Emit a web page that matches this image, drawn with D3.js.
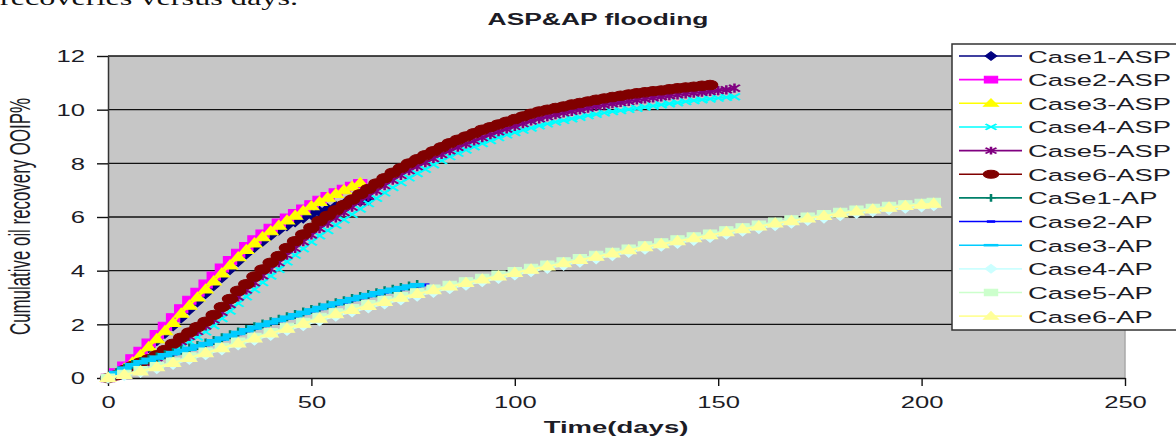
<!DOCTYPE html>
<html>
<head>
<meta charset="utf-8">
<script src="https://cdn.jsdelivr.net/npm/d3@7"></script>
<style>
body { margin: 0; background: #fff; overflow: hidden; }
svg { display: block; }
</style>
</head>
<body>
<script>
var w = 1176;
var h = 439;
var SX = 1.6; // the source picture is stretched sideways, text and markers too

// ---- data ----
var days2 = [0,2,4,6,8,10,12,14,16,18,20,22,24,26,28,30,32,34,36,38,40,42,44,46,48,50,52,54,56,58,60,62,64,66,68,70,72,74,76,78,80,82,84,86,88,90,92,94,96,98,100,102,104,106,108,110,112,114,116,118,120,122,124,126,128,130,132,134,136,138,140,142,144,146,148,150,152,154];
var days4 = [0,4,8,12,16,20,24,28,32,36,40,44,48,52,56,60,64,68,72,76,80,84,88,92,96,100,104,108,112,116,120,124,128,132,136,140,144,148,152,156,160,164,168,172,176,180,184,188,192,196,200,203];

var case1Asp = [0,0.15,0.35,0.6,0.87,1.14,1.4,1.67,1.95,2.25,2.55,2.85,3.15,3.45,3.75,4.05,4.35,4.63,4.88,5.1,5.32,5.52,5.68,5.83,5.97,6.1,6.2,6.3,6.39,6.47,6.54,6.6,6.65];
var case2Asp = [0,0.2,0.45,0.72,1.0,1.3,1.62,1.93,2.25,2.58,2.9,3.2,3.5,3.8,4.1,4.38,4.65,4.9,5.15,5.37,5.58,5.78,5.96,6.13,6.3,6.46,6.62,6.76,6.9,7.03,7.15,7.25];
var case3Asp = [0,0.15,0.35,0.58,0.85,1.15,1.45,1.75,2.05,2.4,2.7,3.0,3.3,3.6,3.9,4.2,4.5,4.77,5.02,5.25,5.47,5.68,5.87,6.05,6.22,6.4,6.56,6.72,6.86,7.0,7.13,7.27];
var case4Asp = [0,0.07,0.2,0.32,0.43,0.53,0.65,0.8,0.98,1.17,1.35,1.53,1.72,1.95,2.22,2.5,2.78,3.03,3.3,3.56,3.8,4.05,4.33,4.58,4.82,5.07,5.3,5.5,5.7,5.9,6.1,6.3,6.5,6.7,6.9,7.1,7.28,7.46,7.62,7.78,7.95,8.1,8.25,8.38,8.5,8.62,8.74,8.85,8.96,9.06,9.15,9.24,9.32,9.4,9.47,9.54,9.6,9.66,9.72,9.78,9.83,9.88,9.93,9.97,10.01,10.05,10.1,10.14,10.18,10.22,10.26,10.3,10.34,10.37,10.4,10.43,10.46,10.48];
var case5Asp = [0,0.08,0.25,0.38,0.5,0.62,0.76,0.94,1.15,1.36,1.55,1.74,1.94,2.17,2.45,2.74,3.02,3.28,3.55,3.81,4.06,4.3,4.58,4.83,5.08,5.33,5.57,5.77,5.97,6.17,6.37,6.57,6.77,6.97,7.17,7.37,7.55,7.73,7.88,8.03,8.18,8.33,8.47,8.6,8.72,8.84,8.96,9.07,9.18,9.28,9.38,9.48,9.58,9.66,9.74,9.81,9.88,9.94,10.0,10.06,10.12,10.17,10.22,10.27,10.31,10.36,10.4,10.44,10.48,10.52,10.55,10.59,10.62,10.65,10.68,10.71,10.74,10.8];
var case6Asp = [0,0.1,0.3,0.45,0.58,0.7,0.85,1.05,1.28,1.5,1.7,1.9,2.1,2.35,2.65,2.95,3.25,3.5,3.78,4.05,4.3,4.55,4.85,5.1,5.35,5.6,5.85,6.05,6.25,6.45,6.65,6.85,7.05,7.25,7.45,7.65,7.82,8.0,8.15,8.3,8.45,8.6,8.75,8.88,9.0,9.12,9.25,9.35,9.45,9.55,9.65,9.75,9.85,9.93,10.0,10.06,10.12,10.19,10.25,10.31,10.37,10.42,10.47,10.52,10.57,10.61,10.65,10.69,10.72,10.76,10.8,10.83,10.86,10.89,10.92];
var case1Ap = [0,0.2,0.36,0.5,0.61,0.7,0.78,0.87,0.95,1.03,1.12,1.21,1.3,1.4,1.5,1.61,1.71,1.81,1.91,2.01,2.1,2.19,2.28,2.37,2.46,2.55,2.64,2.72,2.8,2.88,2.96,3.04,3.11,3.18,3.25,3.31,3.37,3.43,3.48];
var case2Ap = [0,0.18,0.33,0.46,0.57,0.66,0.74,0.82,0.9,0.98,1.06,1.15,1.24,1.34,1.44,1.55,1.65,1.75,1.85,1.95,2.04,2.13,2.22,2.31,2.4,2.49,2.58,2.67,2.75,2.83,2.91,2.99,3.06,3.13,3.2,3.26,3.32,3.38,3.43,3.47];
var case3Ap = [0,0.19,0.35,0.48,0.59,0.68,0.76,0.85,0.93,1.01,1.09,1.18,1.27,1.37,1.47,1.58,1.68,1.78,1.88,1.98,2.07,2.16,2.25,2.34,2.43,2.52,2.61,2.7,2.78,2.86,2.94,3.02,3.09,3.16,3.23,3.29,3.35,3.41,3.46];
var case4Ap = [0,0.1,0.22,0.36,0.52,0.7,0.88,1.06,1.24,1.42,1.6,1.78,1.96,2.14,2.31,2.47,2.62,2.77,2.92,3.06,3.2,3.34,3.47,3.6,3.72,3.85,3.97,4.09,4.21,4.33,4.45,4.57,4.69,4.81,4.92,5.03,5.14,5.25,5.37,5.48,5.58,5.69,5.78,5.88,5.97,6.06,6.14,6.21,6.28,6.34,6.39,6.43];
var case5Ap = [0,0.14,0.28,0.43,0.6,0.79,0.97,1.15,1.34,1.52,1.7,1.89,2.08,2.26,2.43,2.59,2.74,2.89,3.04,3.18,3.32,3.46,3.59,3.72,3.84,3.97,4.09,4.21,4.33,4.45,4.57,4.69,4.81,4.93,5.04,5.15,5.26,5.37,5.49,5.6,5.7,5.81,5.9,6.0,6.09,6.18,6.26,6.33,6.4,6.46,6.51,6.55];
var case6Ap = [0,0.12,0.25,0.4,0.56,0.75,0.93,1.11,1.29,1.48,1.66,1.84,2.03,2.21,2.38,2.54,2.69,2.84,2.99,3.13,3.27,3.41,3.54,3.67,3.79,3.92,4.04,4.16,4.28,4.4,4.52,4.64,4.76,4.88,4.99,5.1,5.21,5.32,5.44,5.55,5.65,5.76,5.85,5.95,6.04,6.13,6.21,6.28,6.35,6.41,6.46,6.5];

var names = ["Case1-ASP","Case2-ASP","Case3-ASP","Case4-ASP","Case5-ASP","Case6-ASP","CaSe1-AP","Case2-AP","Case3-AP","Case4-AP","Case5-AP","Case6-AP"];
var colors = ["#000080","#ff00ff","#ffff00","#00ffff","#800080","#800000","#00806a","#0000ff","#00ccff","#ccffff","#ccffcc","#ffff99"];
var markers = ["diamond","square","triangle","x","star","circle","plus","dash","longdash","diamond","square","triangle"];
var xTicks = [0,50,100,150,200,250];
var yTicks = [0,2,4,6,8,10,12];

var series = [
    {days: days2, vals: case1Asp}, {days: days2, vals: case2Asp}, {days: days2, vals: case3Asp},
    {days: days2, vals: case4Asp}, {days: days2, vals: case5Asp}, {days: days2, vals: case6Asp},
    {days: days2, vals: case1Ap}, {days: days2, vals: case2Ap}, {days: days2, vals: case3Ap},
    {days: days4, vals: case4Ap}, {days: days4, vals: case5Ap}, {days: days4, vals: case6Ap}
];
series.forEach(function (s, i) {
    s.name = names[i];
    s.color = colors[i];
    s.marker = markers[i];
    s.pts = s.vals.map(function (v, j) { return [s.days[j], v]; });
});

// marker shapes, drawn before the sideways stretch
function markerPath(type) {
    switch (type) {
        case "diamond": return "M0,-5L3.6,0L0,5L-3.6,0Z";
        case "square": return "M-4,-4H4V4H-4Z";
        case "triangle": return "M0,-5.2L4.6,3.6L-4.6,3.6Z";
        case "x": return "M-3.4,-3.4L3.4,3.4M-3.4,3.4L3.4,-3.4";
        case "star": return "M-3.4,-3.4L3.4,3.4M-3.4,3.4L3.4,-3.4M0,-4.6V4.6";
        case "circle": return "M-4.7,0a4.7,4.7 0 1,0 9.4,0a4.7,4.7 0 1,0 -9.4,0";
        case "plus": return "M-3,0H3M0,-4.5V4.5";
        case "dash": return "M-2.6,0H2.6";
        case "longdash": return "M-4.6,0H4.6";
    }
}
function isFilled(type) {
    return type == "diamond" || type == "square" || type == "triangle" || type == "circle";
}
function markerStroke(type) {
    if (isFilled(type)) return 1;
    if (type == "dash") return 3;
    if (type == "longdash") return 4.5;
    return 1.6;
}

var font = "'Liberation Sans', Arial, sans-serif";
var ink = "#1c1c26";

var svg = d3.select("body").append("svg").attr("width", w).attr("height", h);

// bit of the page text that the chart was cut from
svg.append("text")
    .attr("x", 0).attr("y", 5)
    .attr("textLength", 298).attr("lengthAdjust", "spacingAndGlyphs")
    .style("font-family", "'Liberation Serif', 'Times New Roman', serif")
    .style("font-size", "22px").attr("fill", "#111")
    .text("recoveries versus days.");

var x = d3.scaleLinear().domain([0, 250]).range([108, 1125]);
var y = d3.scaleLinear().domain([0, 12]).range([378, 56]);

// plot area
svg.append("rect")
    .attr("x", x(0)).attr("y", y(12))
    .attr("width", x(250) - x(0)).attr("height", y(0) - y(12))
    .attr("fill", "#c6c6c6");
svg.append("line")
    .attr("x1", x(250)).attr("x2", x(250)).attr("y1", y(12)).attr("y2", y(0))
    .attr("stroke", "#a8a8a8").attr("stroke-width", 1.5);

svg.append("g").selectAll("line")
    .data(yTicks.filter(function (d) { return d > 0; }))
    .enter().append("line")
    .attr("x1", x(0)).attr("x2", x(250))
    .attr("y1", function (d) { return y(d); }).attr("y2", function (d) { return y(d); })
    .attr("stroke", "#111").attr("stroke-width", 1.4);

// axes
var xAxis = svg.append("g")
    .attr("transform", "translate(0," + y(0) + ")")
    .call(d3.axisBottom(x).tickValues(xTicks).tickSize(8).tickSizeOuter(0));
xAxis.select(".domain").attr("stroke", "#111").attr("stroke-width", 1.5);
xAxis.selectAll("line").attr("stroke", "#111").attr("stroke-width", 1.4);
xAxis.selectAll("text")
    .attr("y", 30).attr("dy", null)
    .attr("transform", "scale(" + SX + ",1)")
    .style("font-family", font).style("font-size", "16px").attr("fill", ink);

var yAxis = svg.append("g")
    .attr("transform", "translate(" + x(0) + ",0)")
    .call(d3.axisLeft(y).tickValues(yTicks).tickSize(11).tickSizeOuter(0));
yAxis.select(".domain").attr("stroke", "#333").attr("stroke-width", 1.5);
yAxis.selectAll("line").attr("stroke", "#111").attr("stroke-width", 1.4);
yAxis.selectAll("text")
    .attr("x", -23 / SX).attr("dy", "0.36em")
    .attr("transform", "scale(" + SX + ",1)")
    .style("font-family", font).style("font-size", "16px").attr("fill", ink);

// series, each line then its markers
var line = d3.line()
    .x(function (d) { return x(d[0]); })
    .y(function (d) { return y(d[1]); });

series.forEach(function (s) {
    var g = svg.append("g");
    g.append("path")
        .attr("d", line(s.pts))
        .attr("fill", "none")
        .attr("stroke", s.color)
        .attr("stroke-width", s.marker == "longdash" ? 3 : 2);
    g.selectAll("path.mk")
        .data(s.pts)
        .enter().append("path")
        .attr("class", "mk")
        .attr("transform", function (d) {
            return "translate(" + x(d[0]) + "," + y(d[1]) + ") scale(" + SX + ",1)";
        })
        .attr("d", markerPath(s.marker))
        .attr("fill", isFilled(s.marker) ? s.color : "none")
        .attr("stroke", s.color)
        .attr("stroke-width", markerStroke(s.marker));
});

// legend
var lg = svg.append("g");
lg.append("rect")
    .attr("x", 952).attr("y", 44).attr("width", 240).attr("height", 286)
    .attr("fill", "#fff").attr("stroke", "#333").attr("stroke-width", 1.5);

var rowH = 23.65;
series.forEach(function (s, i) {
    var cy = 56 + i * rowH;
    lg.append("line")
        .attr("x1", 959).attr("x2", 1022).attr("y1", cy).attr("y2", cy)
        .attr("stroke", s.color).attr("stroke-width", 1.6);
    lg.append("path")
        .attr("transform", "translate(991," + cy + ") scale(" + SX + ",0.85)")
        .attr("d", markerPath(s.marker))
        .attr("fill", isFilled(s.marker) ? s.color : "none")
        .attr("stroke", s.color)
        .attr("stroke-width", s.marker == "longdash" ? 3 : markerStroke(s.marker));
    lg.append("text")
        .attr("transform", "translate(1028," + (cy + 6.5) + ") scale(1.66,1)")
        .style("font-family", font).style("font-size", "16.5px").attr("fill", ink)
        .text(s.name);
});

// titles
svg.append("text")
    .attr("transform", "translate(598,25) scale(1.65,1)")
    .attr("text-anchor", "middle")
    .style("font-family", font).style("font-size", "16px").style("font-weight", "bold")
    .attr("fill", ink)
    .text("ASP&AP flooding");

svg.append("text")
    .attr("transform", "translate(616,433) scale(1.72,1)")
    .attr("text-anchor", "middle")
    .style("font-family", font).style("font-size", "16px").style("font-weight", "bold")
    .attr("fill", ink)
    .text("Time(days)");

svg.append("text")
    .attr("transform", "translate(30,216.5) scale(1.75,1) rotate(-90)")
    .attr("text-anchor", "middle")
    .attr("textLength", 237).attr("lengthAdjust", "spacingAndGlyphs")
    .style("font-family", font).style("font-size", "17px")
    .attr("fill", ink)
    .text("Cumulative oil recovery OOIP%");
</script>
</body>
</html>
